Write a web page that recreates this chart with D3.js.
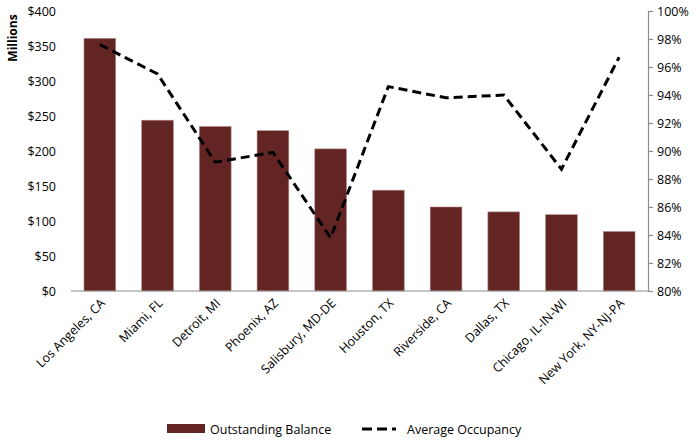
<!DOCTYPE html>
<html>
<head>
<meta charset="utf-8">
<script src="https://cdn.jsdelivr.net/npm/d3@7"></script>
<style>
  body { margin: 0; background: #fff; }
  text { font-family: "Open Sans", "Liberation Sans", sans-serif; fill: #000; }
</style>
</head>
<body>
<div id="chart"></div>
<script>
var categories = ["Los Angeles, CA", "Miami, FL", "Detroit,  MI", "Phoenix, AZ", "Salisbury, MD-DE",
                  "Houston, TX", "Riverside, CA", "Dallas, TX", "Chicago, IL-IN-WI", "New York, NY-NJ-PA"];
var balance = [361, 244, 235, 229, 203, 144, 120, 113, 109, 85];
var occupancy = [97.6, 95.5, 89.2, 89.9, 83.8, 94.6, 93.8, 94.0, 88.7, 96.7];
var leftTicks = [0, 50, 100, 150, 200, 250, 300, 350, 400];
var rightTicks = [80, 82, 84, 86, 88, 90, 92, 94, 96, 98, 100];

var width = 696, height = 442;
var margin = {top: 11, left: 71, bottom: 151, right: 48};

var svg = d3.select("#chart").append("svg").attr("width", width).attr("height", height);

var x = d3.scaleBand().domain(categories).range([margin.left, width - margin.right]).paddingInner(0.45).paddingOuter(0.225);
var y = d3.scaleLinear().domain([0, 400]).range([height - margin.bottom, margin.top]);
var y2 = d3.scaleLinear().domain([80, 100]).range([height - margin.bottom, margin.top]);

// bars
svg.append("g").selectAll("rect").data(balance)
    .enter().append("rect")
    .attr("x", function(d, i){ return x(categories[i]); })
    .attr("y", function(d){ return y(d); })
    .attr("width", x.bandwidth())
    .attr("height", function(d){ return y(0) - y(d); })
    .attr("fill", "#632523")
    .attr("stroke", "#b38a8a")
    .attr("stroke-width", 0.6);

// baseline
svg.append("line")
    .attr("x1", margin.left).attr("x2", width - margin.right)
    .attr("y1", y(0)).attr("y2", y(0))
    .attr("stroke", "#8c8c8c").attr("stroke-width", 1.2);

// left axis (labels only)
var leftAxis = d3.axisLeft(y).tickValues(leftTicks).tickSize(0).tickPadding(15)
    .tickFormat(function(d){ return "$" + d; });
var gl = svg.append("g").attr("transform", "translate(" + margin.left + ",0)").call(leftAxis);
gl.select(".domain").remove();
gl.selectAll("text").style("font-size", "12.5px").attr("fill", "#000");

// right axis
var rightAxis = d3.axisRight(y2).tickValues(rightTicks).tickSize(5).tickSizeOuter(5).tickPadding(4)
    .tickFormat(function(d){ return d + "%"; });
var gr = svg.append("g").attr("transform", "translate(" + (width - margin.right) + ",0)").call(rightAxis);
gr.selectAll(".domain, line").attr("stroke", "#8c8c8c").attr("stroke-width", 1.2);
gr.selectAll("text").style("font-size", "12.5px").attr("fill", "#000");

// x labels
var bottomAxis = d3.axisBottom(x).tickSize(0).tickPadding(0);
var gb = svg.append("g").attr("transform", "translate(0," + y(0) + ")").call(bottomAxis);
gb.select(".domain").remove();
gb.selectAll("text")
    .style("font-size", "12.5px")
    .style("text-anchor", "end")
    .attr("dy", null)
    .attr("transform", "translate(6,13) rotate(-45)");

// occupancy line
var line = d3.line()
    .x(function(d, i){ return x(categories[i]) + x.bandwidth() / 2; })
    .y(function(d){ return y2(d); });
svg.append("path").datum(occupancy)
    .attr("d", line)
    .attr("fill", "none")
    .attr("stroke", "#000")
    .attr("stroke-width", 3)
    .attr("stroke-dasharray", "9,5");

// y title
svg.append("text")
    .attr("transform", "translate(17,38) rotate(-90)")
    .attr("text-anchor", "middle")
    .style("font-size", "12px")
    .style("font-weight", "bold")
    .text("Millions");

// legend
var lg = svg.append("g");
lg.append("rect").attr("x", 167).attr("y", 424).attr("width", 38).attr("height", 9).attr("fill", "#632523");
lg.append("text").attr("x", 210).attr("y", 434).style("font-size", "12.5px").text("Outstanding Balance");
lg.append("line").attr("x1", 362).attr("x2", 396).attr("y1", 429).attr("y2", 429)
    .attr("stroke", "#000").attr("stroke-width", 3).attr("stroke-dasharray", "10,5");
lg.append("text").attr("x", 407).attr("y", 434).style("font-size", "12.5px").text("Average Occupancy");
</script>
</body>
</html>
